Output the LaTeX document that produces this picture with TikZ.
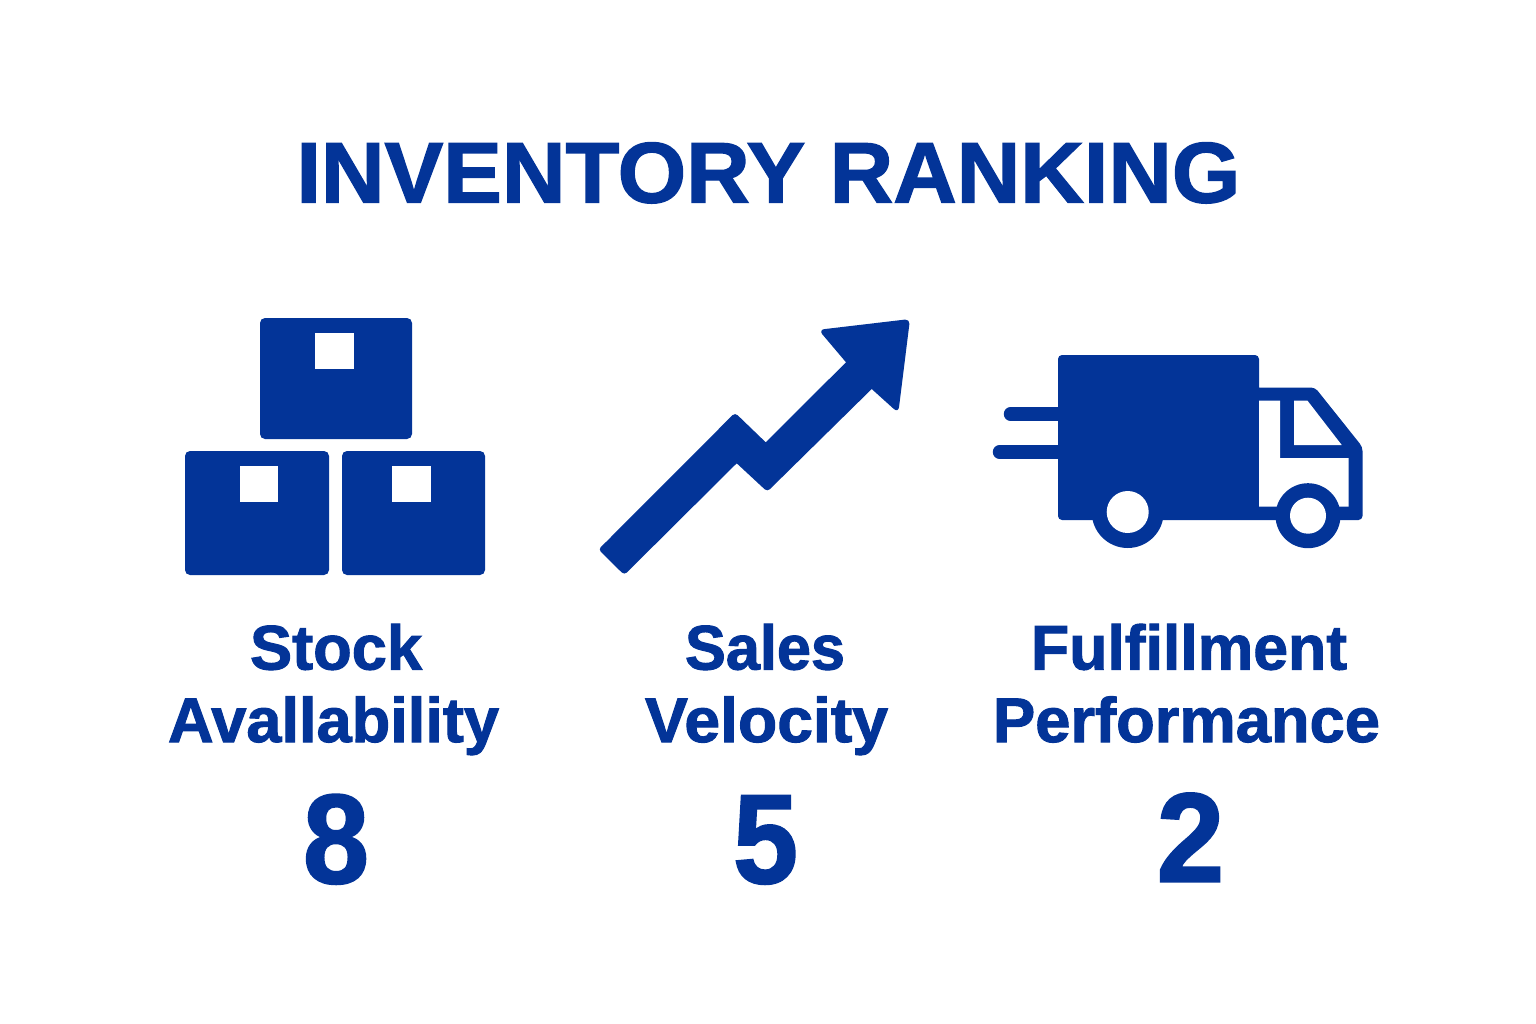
\documentclass[tikz,border=0pt]{standalone}
\usepackage{fontspec}
\setmainfont{Liberation Sans}[BoldFont={Liberation Sans Bold},BoldFeatures={FakeBold=1.6}]
\definecolor{inkblue}{RGB}{3,52,152}
\tikzset{
  lbl/.style={anchor=base,inner sep=0pt,outer sep=0pt,text=inkblue},
  solidblue/.style={fill=inkblue,draw=none},
  hole/.style={fill=white,draw=none},
  crate/.style={fill=inkblue,draw=none,rounded corners=5pt},
}
\newcommand{\fit}[3]{\resizebox{#1pt}{\height}{\fontsize{#2}{#2}\selectfont\bfseries #3}}
\begin{document}
\begin{tikzpicture}[x=1pt,y=-1pt]
\fill[white] (0,0) rectangle (1536,1024);
\useasboundingbox (0,0) rectangle (1536,1024);
% title
\node[lbl] (title) at (768.5,202.5) {\fit{944}{86}{INVENTORY RANKING}};
% crates
\fill[crate] (260,318) rectangle (412,439);
\fill[crate] (185,451) rectangle (329,575);
\fill[crate] (342,451) rectangle (485,575);
\fill[hole] (315,333) rectangle (354,369);
\fill[hole] (240,466) rectangle (278,502);
\fill[hole] (392,466) rectangle (431,502);
% arrow
\fill[solidblue]
 (606,542) [rounded corners=3.5pt] -- (598.3,549.3) -- (624.3,575) [sharp corners] -- (736.7,463.3) [rounded corners=3.5pt] -- (767.3,491.7)
 [sharp corners] -- (871.7,389) [rounded corners=6pt] -- (898.3,413) [rounded corners=5pt] -- (910,319) [rounded corners=6pt] -- (818.5,329.8)
 [sharp corners] -- (846,362.3) -- (765.7,442.3) [rounded corners=3.5pt] -- (735,412.7) [sharp corners] -- (606,542) -- cycle;
% truck
\draw[inkblue,line width=13.5pt,line cap=round] (1010.5,414) -- (1062,414);
\draw[inkblue,line width=13.5pt,line cap=round] (999.5,452) -- (1062,452);
\fill[solidblue] (1158,355) [rounded corners=4pt] -- (1259,355) [sharp corners] -- (1259,387.5) [rounded corners=4pt] -- (1315,387.5) -- (1362.5,447) -- (1362.5,520) -- (1058,520) -- (1058,355) [sharp corners] -- (1158,355) -- cycle;
\fill[hole] (1259,400.7) -- (1280,400.7) -- (1280,458) -- (1348.5,458) -- (1348.5,506.7) -- (1259,506.7) -- cycle;
\fill[hole] (1294,400.7) -- (1307.5,400.7) -- (1341.7,445) -- (1294,445) -- cycle;
\fill[solidblue] (1127.7,512) circle (36);
\fill[hole] (1127.7,512) circle (21);
\fill[solidblue] (1308,515.7) circle (32.5);
\fill[hole] (1308,515.7) circle (18);
% labels
\node[lbl] (stock) at (336,669.5) {\fit{172}{63}{Stock}};
\node[lbl] (avail) at (333.5,742) {\fit{331}{63}{Avallability}};
\node[lbl] (sales) at (765,669.5) {\fit{160}{63}{Sales}};
\node[lbl] (velo) at (766.5,742) {\fit{243}{63}{Velocity}};
\node[lbl] (fulf) at (1189,669.5) {\fit{316}{63}{Fulfillment}};
\node[lbl] (perf) at (1186.5,742) {\fit{387}{63}{Performance}};
\node[lbl] (n8) at (336,883) {\fit{66}{127}{8}};
\node[lbl] (n5) at (765.5,883) {\fit{65}{127}{5}};
\node[lbl] (n2) at (1190.5,881.7) {\fit{67.5}{127}{2}};
\end{tikzpicture}
\end{document}
